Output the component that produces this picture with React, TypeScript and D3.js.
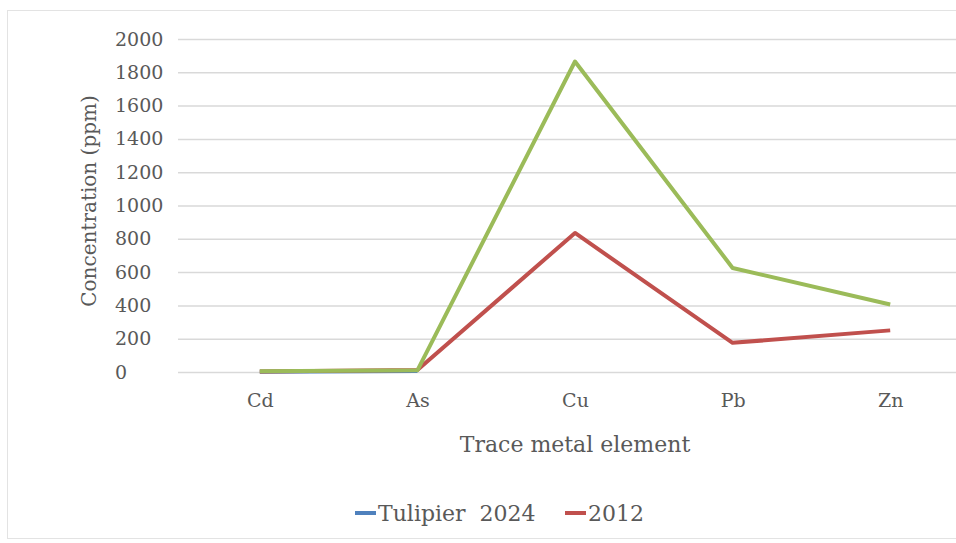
import React, { useEffect, useRef } from 'react';
import * as d3 from 'd3';

const elements = ['Cd', 'As', 'Cu', 'Pb', 'Zn'];
const tulipier2024: (number | null)[] = [2, 6, null, null, null];
const year2012 = [3, 12, 835, 175, 250];
const otherSeries = [5, 10, 1865, 625, 405];
const yTicks = [0, 200, 400, 600, 800, 1000, 1200, 1400, 1600, 1800, 2000];

const W = 956;
const H = 543;
const FONT = '"DejaVu Serif", serif';
const TEXT = '#595959';

const App: React.FC = () => {
  const ref = useRef<SVGSVGElement>(null);

  useEffect(() => {
    const svg = d3.select(ref.current);
    svg.selectAll('*').remove();

    // chart frame
    svg.append('rect')
      .attr('x', 7.5).attr('y', 10.5)
      .attr('width', 960).attr('height', 528)
      .attr('fill', '#fff')
      .attr('stroke', '#e3e3e3');

    const x = d3.scalePoint<string>().domain(elements).range([181, 969]).padding(0.5);
    const y = d3.scaleLinear().domain([0, 2000]).range([372, 39]);

    // gridlines + y labels (left aligned like the original)
    const yAxis = d3.axisLeft(y).tickValues(yTicks).tickFormat(d3.format('d'))
      .tickSize(-(969 - 178)).tickPadding(0);
    const gy = svg.append('g').attr('transform', 'translate(178,0)').call(yAxis);
    gy.select('.domain').remove();
    gy.selectAll('.tick line').attr('stroke', '#d9d9d9').attr('stroke-width', 1.5);
    gy.selectAll('.tick text')
      .attr('x', 115 - 178)
      .attr('text-anchor', 'start')
      .attr('fill', TEXT).attr('font-family', FONT).attr('font-size', 19);

    // x labels
    const xAxis = d3.axisBottom(x).tickSize(0).tickPadding(22);
    const gx = svg.append('g').attr('transform', 'translate(0,372)').call(xAxis);
    gx.select('.domain').remove();
    gx.selectAll('.tick text')
      .attr('fill', TEXT).attr('font-family', FONT).attr('font-size', 19);

    // axis titles
    svg.append('text')
      .attr('x', 575).attr('y', 452)
      .attr('text-anchor', 'middle')
      .attr('fill', TEXT).attr('font-family', FONT).attr('font-size', 22)
      .text('Trace metal element');
    svg.append('text')
      .attr('transform', 'translate(96,201) rotate(-90)')
      .attr('text-anchor', 'middle')
      .attr('fill', TEXT).attr('font-family', FONT).attr('font-size', 20)
      .text('Concentration (ppm)');

    const line = d3.line<number | null>()
      .defined(d => d !== null)
      .x((_, i) => x(elements[i]) as number)
      .y(d => y(d as number));

    const series = [
      { values: tulipier2024, color: '#4f81bd' },
      { values: year2012, color: '#c0504d' },
      { values: otherSeries, color: '#9bbb59' },
    ];
    svg.selectAll('path.series')
      .data(series)
      .join('path')
      .attr('class', 'series')
      .attr('d', d => line(d.values))
      .attr('fill', 'none')
      .attr('stroke', d => d.color)
      .attr('stroke-width', 4)
      .attr('stroke-linejoin', 'round');

    // legend
    const legend = [
      { name: 'Tulipier  2024', color: '#4f81bd', x: 355 },
      { name: '2012', color: '#c0504d', x: 565 },
    ];
    const lg = svg.selectAll('g.legend').data(legend).join('g')
      .attr('class', 'legend')
      .attr('transform', d => `translate(${d.x},513)`);
    lg.append('line')
      .attr('x1', 0).attr('x2', 21)
      .attr('stroke', d => d.color).attr('stroke-width', 4);
    lg.append('text')
      .attr('x', 23).attr('dy', '0.35em')
      .attr('fill', TEXT).attr('font-family', FONT).attr('font-size', 22)
      .attr('xml:space', 'preserve')
      .text(d => d.name);
  }, []);

  return (
    <svg ref={ref} width={W} height={H}
      style={{ position: 'absolute', left: 0, top: 0, background: '#fff' }} />
  );
};

export default App;
